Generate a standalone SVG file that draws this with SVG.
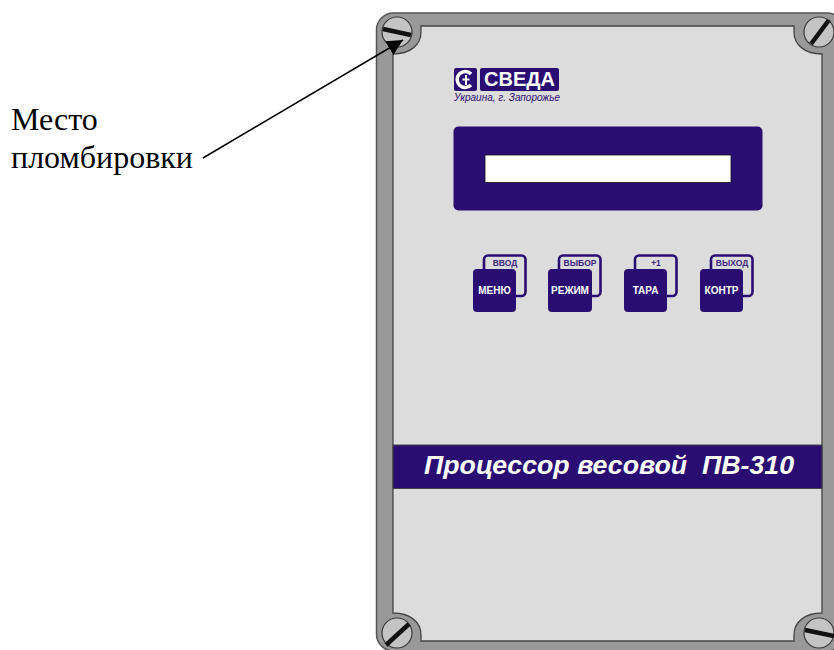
<svg xmlns="http://www.w3.org/2000/svg" width="834" height="650" viewBox="0 0 834 650">
<style>
.s{font-family:"Liberation Sans",Arial,sans-serif}
.blue{fill:#2a0d73}
.key{fill:#2a0d73;stroke:none}
.back{fill:none;stroke:#2a0d73;stroke-width:2.6}
.k{font-family:"Liberation Sans",Arial,sans-serif;font-weight:bold;font-size:10px;fill:#fff;text-anchor:middle}
.b{font-family:"Liberation Sans",Arial,sans-serif;font-weight:bold;font-size:8.500px;fill:#3a2580;text-anchor:middle}
.r{font-family:"Liberation Serif","Times New Roman",serif;font-size:32px;fill:#000}
.screw{fill:#c4c4c4;stroke:#3a3a3a;stroke-width:1.2}
.slot{stroke:#111;stroke-width:4.5}
</style>
<defs>
<marker id="ah" markerUnits="userSpaceOnUse" markerWidth="18" markerHeight="18" refX="16" refY="8" orient="auto"><path d="M0,0 L16,8 L0,16 Z" fill="#000"/></marker>
<g id="sc"><circle class="screw" r="15"/></g>
</defs>
<rect width="834" height="650" fill="#fff"/>
<g id="housing">
<rect x="376.500" y="13" width="468" height="638" rx="17" fill="#999" stroke="#555" stroke-width="1.500"/>
<path d="M421,26 H794 V32 C794,45 805,54 822,54 V613 C805,613 794,622 794,635 V641 H421 V635 C421,622 410,613 393,613 V54 C410,54 421,45 421,32 Z" fill="#dcdcdc" stroke="#444" stroke-width="1.300"/>
</g>
<g id="screw-tl"><use href="#sc" x="397" y="32"/><line class="slot" x1="383" y1="29" x2="411" y2="35"/></g>
<g id="screw-tr"><use href="#sc" x="819" y="32"/><line class="slot" x1="811" y1="44" x2="829" y2="20"/></g>
<g id="screw-bl"><use href="#sc" x="397" y="633"/><line class="slot" x1="386" y1="645" x2="409" y2="624"/></g>
<g id="screw-br"><use href="#sc" x="819" y="633"/><line class="slot" x1="805" y1="630" x2="834" y2="636"/></g>
<g id="logo">
<rect class="blue" x="454" y="68" width="23" height="23" rx="2"/>
<rect class="blue" x="480" y="68" width="79" height="23" rx="2"/>
<path d="M471,74 A8,8 0 1 0 471,85" fill="none" stroke="#fff" stroke-width="3.500"/>
<path d="M466,75 V85 M462.500,79.500 H469.500" stroke="#fff" stroke-width="2" fill="none"/>
<text class="s" x="519.500" y="86" font-size="21" font-weight="bold" fill="#fff" text-anchor="middle" textLength="71" lengthAdjust="spacingAndGlyphs">СВЕДА</text>
<text class="s" x="454" y="101" font-size="10" font-style="italic" fill="#2a0d73" textLength="106" lengthAdjust="spacingAndGlyphs">Украина, г. Запорожье</text>
</g>
<g id="display">
<rect class="blue" x="453.500" y="126.500" width="309" height="84" rx="5"/>
<rect x="485" y="155" width="246" height="27.500" fill="#fff" stroke="#111" stroke-width="0.800"/>
</g>
<g id="btn-menu">
<rect class="back" x="484" y="255.500" width="41.500" height="40.500" rx="4"/>
<text class="b" x="505" y="266">ВВОД</text>
<rect class="key" x="473" y="269" width="43" height="43" rx="4"/>
<text class="k" x="494.500" y="294">МЕНЮ</text>
</g>
<g id="btn-mode">
<rect class="back" x="559" y="255.500" width="41.500" height="40.500" rx="4"/>
<text class="b" x="580" y="266">ВЫБОР</text>
<rect class="key" x="548" y="269" width="44" height="43" rx="4"/>
<text class="k" x="570" y="294">РЕЖИМ</text>
</g>
<g id="btn-tare">
<rect class="back" x="635" y="255.500" width="41.500" height="40.500" rx="4"/>
<text class="b" x="656" y="266">+1</text>
<rect class="key" x="624" y="269" width="43" height="43" rx="4"/>
<text class="k" x="645.500" y="294">ТАРА</text>
</g>
<g id="btn-contr">
<rect class="back" x="711" y="255.500" width="41.500" height="40.500" rx="4"/>
<text class="b" x="732" y="266">ВЫХОД</text>
<rect class="key" x="700" y="269" width="43" height="43" rx="4"/>
<text class="k" x="721.500" y="294">КОНТР</text>
</g>
<g id="title">
<rect class="blue" x="393" y="445" width="429" height="43.500" stroke="#444" stroke-width="1"/>
<text class="s" x="424" y="474" font-size="25" font-weight="bold" font-style="italic" fill="#fff" xml:space="preserve" textLength="370" lengthAdjust="spacingAndGlyphs">Процессор весовой  ПВ-310</text>
</g>
<g id="connectors">
<line x1="203" y1="158" x2="403" y2="40" stroke="#000" stroke-width="1.500" marker-end="url(#ah)"/>
</g>
<g id="label">
<text class="r" x="11" y="130">Место</text>
<text class="r" x="11" y="168">пломбировки</text>
</g>
</svg>
